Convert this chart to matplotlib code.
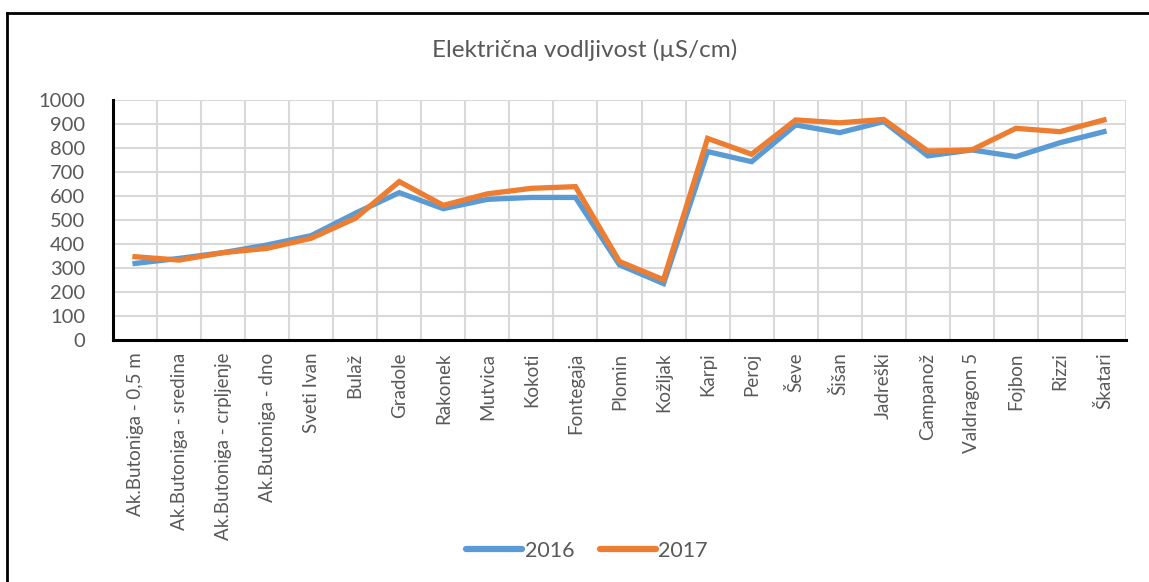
import matplotlib.pyplot as plt
from matplotlib.lines import Line2D

plt.rcParams['font.family'] = ['Lato', 'DejaVu Sans']

# ====podaci
lokacije = ['Ak.Butoniga - 0,5 m', 'Ak.Butoniga - sredina', 'Ak.Butoniga - crpljenje',
            'Ak.Butoniga - dno', 'Sveti Ivan', 'Bulaž', 'Gradole', 'Rakonek', 'Mutvica',
            'Kokoti', 'Fontegaja', 'Plomin', 'Kožljak', 'Karpi', 'Peroj', 'Ševe', 'Šišan',
            'Jadreški', 'Campanož', 'Valdragon 5', 'Fojbon', 'Rizzi', 'Škatari']
v2016 = [319, 340, 364, 396, 435, 528, 614, 547, 586, 594, 594, 313, 235, 785, 743,
         896, 864, 910, 767, 792, 764, 822, 868]
v2017 = [347, 333, 364, 382, 424, 507, 660, 561, 609, 632, 639, 327, 251, 840, 774,
         917, 905, 919, 787, 792, 882, 868, 917]

blue = '#5B9BD5'
orange = '#ED7D31'
grey_txt = '#595959'

fig = plt.figure(figsize=(11.49, 5.82), dpi=100)
W, H = 1149, 582
ax = fig.add_axes([113 / W, 1 - 340 / H, (1126 - 113) / W, (340 - 100) / H])

x = list(range(len(lokacije)))
ax.plot(x, v2016, color=blue, lw=3.8, solid_joinstyle='miter', zorder=3)
ax.plot(x, v2017, color=orange, lw=3.8, solid_joinstyle='miter', zorder=4)

ax.set_xlim(-0.5, len(lokacije) - 0.5)
ax.set_ylim(0, 1000)
ax.set_yticks(range(0, 1001, 100))
ax.set_xticks(x)
ax.set_xticklabels(lokacije, rotation=90, fontsize=13.5, color=grey_txt)
ax.tick_params(axis='y', labelsize=14.5, colors=grey_txt, length=0, pad=20)
ax.tick_params(axis='x', length=0, pad=9)

# okomite linije mreže između kategorija
for k in range(len(lokacije) + 1):
    ax.axvline(k - 0.5, color='#D9D9D9', lw=1.5, zorder=1)
for yv in range(100, 1001, 100):
    ax.axhline(yv, color='#D9D9D9', lw=1.5, zorder=1)

for s in ['top', 'right']:
    ax.spines[s].set_visible(False)
for s in ['left', 'bottom']:
    ax.spines[s].set_linewidth(2.2)
    ax.spines[s].set_color('black')
    ax.spines[s].set_zorder(5)

fig.text(585 / W, 1 - 50 / H, 'Električna vodljivost (µS/cm)', ha='center', va='center',
         fontsize=17.5, color=grey_txt)

handles = [Line2D([0], [0], color=blue, lw=4.5, solid_capstyle='round'),
           Line2D([0], [0], color=orange, lw=4.5, solid_capstyle='round')]
fig.legend(handles, ['2016', '2017'], loc='center', bbox_to_anchor=(587 / W, 1 - 551 / H),
           ncol=2, frameon=False, fontsize=15.5, labelcolor=grey_txt, handlelength=2.6,
           handletextpad=0.1, columnspacing=1.2)

# okvir grafikona
fig.add_artist(Line2D([7 / W, 7 / W], [0, 1 - 13 / H], color='black', lw=2))
fig.add_artist(Line2D([7 / W, 1], [1 - 13 / H, 1 - 13 / H], color='black', lw=2))

fig.savefig('out.png', dpi=100)
